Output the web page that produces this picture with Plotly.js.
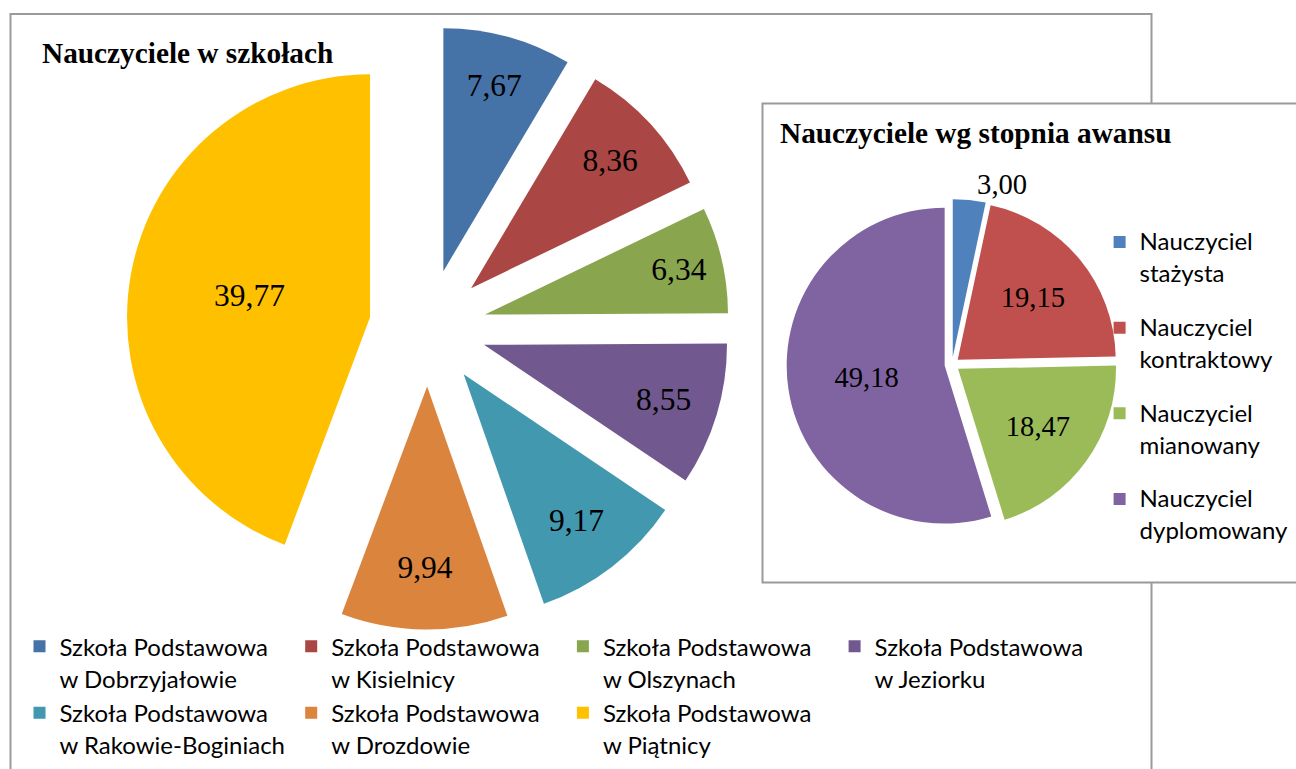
<!DOCTYPE html>
<html><head><meta charset="utf-8">
<script src="https://cdn.plot.ly/plotly-3.0.1.min.js"></script>
<style>html,body{margin:0;padding:0;background:#fff}#chart{width:1296px;height:769px}</style>
</head><body><div id="chart"></div>
<script>
// ---- data ----
const schoolPrefix = 'Szkoła Podstawowa';
const schoolNames = ['w Dobrzyjałowie', 'w Kisielnicy', 'w Olszynach', 'w Jeziorku', 'w Rakowie-Boginiach', 'w Drozdowie', 'w Piątnicy'];
const schoolValues = [7.67, 8.36, 6.34, 8.55, 9.17, 9.94, 39.77];
const schoolColors = ['#4572A7', '#AA4643', '#89A54E', '#71588F', '#4198AF', '#DB843D', '#FFC000'];

const gradePrefix = 'Nauczyciel';
const gradeNames = ['stażysta', 'kontraktowy', 'mianowany', 'dyplomowany'];
const gradeValues = [3.00, 19.15, 18.47, 49.18];
const gradeColors = ['#4F81BD', '#C0504D', '#9BBB59', '#8064A2'];
const gradeTextPos = ['outside', 'inside', 'inside', 'inside'];

const title1 = 'Nauczyciele w szkołach';
const title2 = 'Nauczyciele wg stopnia awansu';

// ---- layout helpers ----
const W = 1296, H = 769;
const px = x => x / W;
const py = y => 1 - y / H;
const LEG_FONT = 'Lato, "Open Sans", sans-serif';
const LEG_SIZE = 24;
const sp = t => '<span style="font-size:' + LEG_SIZE + 'px">' + t + '</span>';

const schoolLabels = schoolNames.map(n => sp(schoolPrefix) + '<br>' + sp(n));
const gradeLabels = gradeNames.map(n => sp(gradePrefix) + '<br><sub>' + sp(n) + '</sub><br>\u00a0');

const serif = '"Liberation Serif", "Times New Roman", serif';
const bigLabelFont = {family: serif, size: 31.5, color: '#000'};
const smallLabelFont = {family: serif, size: 28.6, color: '#000'};

const traces = [
  {
    type: 'pie', labels: schoolLabels, values: schoolValues,
    marker: {colors: schoolColors, line: {width: 0}},
    sort: false, direction: 'clockwise', rotation: 0,
    pull: schoolValues.map(() => 0.2416),
    texttemplate: '%{value:.2f}', textposition: 'inside', insidetextorientation: 'horizontal',
    insidetextfont: bigLabelFont, outsidetextfont: bigLabelFont, textfont: bigLabelFont,
    domain: {x: [px(126.1), px(729.5)], y: [py(629.5), py(26.1)]},
    legend: 'legend', hoverinfo: 'none'
  },
  {
    type: 'pie', labels: gradeLabels, values: gradeValues,
    marker: {colors: gradeColors, line: {width: 0}},
    sort: false, direction: 'clockwise', rotation: 0,
    pull: gradeValues.map(() => 0.047),
    texttemplate: '%{value:.2f}', textposition: gradeTextPos, insidetextorientation: 'horizontal',
    insidetextfont: smallLabelFont, outsidetextfont: smallLabelFont, textfont: smallLabelFont,
    domain: {x: [px(786.6), px(1117.4)], y: [py(529.9), py(199.1)]},
    legend: 'legend2', hoverinfo: 'none'
  }
];

const layout = {
  width: W, height: H,
  margin: {l: 0, r: 0, t: 0, b: 0},
  paper_bgcolor: '#fff', plot_bgcolor: '#fff',
  separators: ', ',
  font: {family: LEG_FONT, color: '#000'},
  showlegend: true,
  legend: {
    orientation: 'h', x: px(19.5), xanchor: 'left', y: py(624), yanchor: 'top',
    entrywidth: 226.7, entrywidthmode: 'pixels', valign: 'top',
    font: {family: LEG_FONT, size: 24.4, color: '#000'},
    bgcolor: 'rgba(0,0,0,0)', traceorder: 'normal'
  },
  legend2: {
    orientation: 'v', x: px(1099.6), xanchor: 'left', y: py(221.7), yanchor: 'top',
    valign: 'top',
    font: {family: LEG_FONT, size: 21.2, color: '#000'},
    bgcolor: 'rgba(0,0,0,0)', traceorder: 'normal'
  },
  shapes: [
    {type: 'rect', xref: 'paper', yref: 'paper', layer: 'below',
     x0: px(10.5), x1: px(1151.5), y0: py(790), y1: py(14),
     line: {color: '#9a9a9a', width: 2}, fillcolor: 'rgba(0,0,0,0)'},
    {type: 'rect', xref: 'paper', yref: 'paper', layer: 'below',
     x0: px(762.5), x1: px(1320), y0: py(582.5), y1: py(103.5),
     line: {color: '#9a9a9a', width: 2}, fillcolor: '#ffffff'}
  ],
  annotations: [
    {text: '<b>' + title1 + '</b>', xref: 'paper', yref: 'paper', x: px(40), y: py(53),
     xanchor: 'left', yanchor: 'middle', showarrow: false,
     font: {family: serif, size: 29.3, color: '#000'}},
    {text: '<b>' + title2 + '</b>', xref: 'paper', yref: 'paper', x: px(778), y: py(133),
     xanchor: 'left', yanchor: 'middle', showarrow: false,
     font: {family: serif, size: 29.3, color: '#000'}}
  ]
};

Plotly.newPlot('chart', traces, layout, {staticPlot: true, displayModeBar: false});
</script>
</body></html>
